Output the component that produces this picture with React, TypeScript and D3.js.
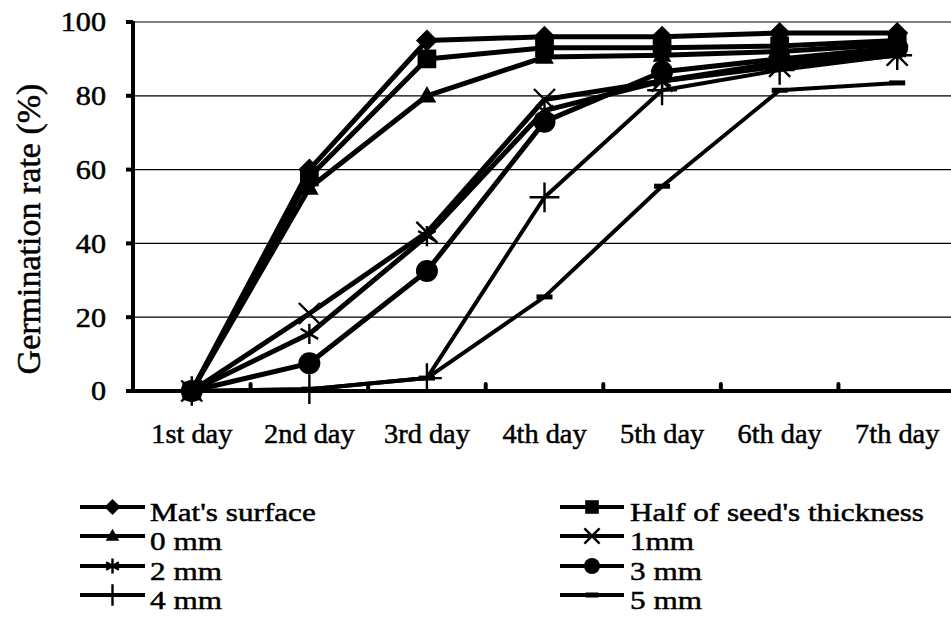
import React from 'react'
import * as d3 from 'd3'

const days = ['1st day', '2nd day', '3rd day', '4th day', '5th day', '6th day', '7th day']
const seriesNames = ["Mat's surface", "Half of seed's thickness", '0 mm', '1mm', '2 mm', '3 mm', '4 mm', '5 mm']
const matSurface = [0, 60, 95, 96, 96, 97, 97]
const halfSeed = [0, 58, 90, 93, 93, 93.5, 95]
const mm0 = [0, 55, 80, 90.5, 91, 92, 94]
const mm1 = [0, 21, 43, 79, 84, 88, 91]
const mm2 = [0, 15.5, 42, 76, 84, 89, 92]
const mm3 = [0, 7.5, 32.5, 73, 86.5, 90, 93]
const mm4 = [0, 0.5, 3.5, 52.5, 81.5, 87, 91]
const mm5 = [0, 0.5, 3.5, 25.5, 55.5, 81.5, 83.5]
const yTicks = [0, 20, 40, 60, 80, 100]
const markers = ['diamond', 'square', 'triangle', 'times', 'asterisk', 'circle', 'plus', 'dash']

const allValues = [matSurface, halfSeed, mm0, mm1, mm2, mm3, mm4, mm5]
const font = '"Liberation Serif"'

function Marker({ kind, x, y, s }: { kind: string; x: number; y: number; s: number }) {
  // s = half size
  if (kind === 'diamond') {
    return <path d={`M${x},${y - s}L${x + s},${y}L${x},${y + s}L${x - s},${y}Z`} fill="#000" />
  }
  if (kind === 'square') {
    return <rect x={x - s * 0.85} y={y - s * 0.85} width={s * 1.7} height={s * 1.7} fill="#000" />
  }
  if (kind === 'triangle') {
    return <path d={`M${x},${y - s * 0.9}L${x + s * 0.85},${y + s * 0.6}L${x - s * 0.85},${y + s * 0.6}Z`} fill="#000" />
  }
  if (kind === 'circle') {
    return <circle cx={x} cy={y} r={s} fill="#000" />
  }
  if (kind === 'dash') {
    return <rect x={x - s * 0.8} y={y - 2.5} width={s * 1.6} height={5} fill="#000" />
  }
  let sym = d3.symbolPlus
  if (kind === 'times') sym = d3.symbolTimes
  if (kind === 'asterisk') sym = d3.symbolAsterisk
  const p = d3.symbol().type(sym).size(s * s * 2.4)()
  return <path d={p || ''} transform={`translate(${x},${y})`} fill="none" stroke="#000" strokeWidth={2.4} />
}

export default function App() {
  const width = 951
  const height = 618
  const left = 133
  const right = 956
  const top = 22
  const bottom = 391

  const x = d3.scaleBand().domain(days).range([left, right])
  const y = d3.scaleLinear().domain([0, 100]).range([bottom, top])
  const cx = (d: string) => (x(d) || 0) + x.bandwidth() / 2

  const line = d3.line<number>()
    .x((d, i) => cx(days[i]))
    .y(d => y(d))

  const legendBase = [521, 550, 580, 609]
  const legendCols = [{ x1: 80, x2: 145, tx: 150 }, { x1: 560, x2: 624, tx: 630 }]
  const txt = { fontFamily: font }

  return (
    <svg width={width} height={height} style={{ position: 'absolute', left: 0, top: 0, background: '#fff' }}>
      {/* grid */}
      {yTicks.filter(t => t > 0).map(t => (
        <line key={'g' + t} x1={left} x2={width} y1={y(t)} y2={y(t)} stroke="#000" strokeWidth={1.2} />
      ))}
      {/* series */}
      {allValues.map((vals, si) => (
        <g key={'s' + si}>
          <path d={line(vals) || ''} fill="none" stroke="#000" strokeWidth={si >= 6 ? 4 : 5} strokeLinejoin="round" />
          {vals.map((v, i) => (
            <Marker key={i} kind={markers[si]} x={cx(days[i])} y={y(v)} s={si === 7 ? 10 : 11} />
          ))}
        </g>
      ))}
      {/* y axis */}
      <line x1={left} x2={left} y1={top - 1} y2={bottom + 2} stroke="#000" strokeWidth={4} />
      {yTicks.map(t => (
        <g key={'yt' + t}>
          <line x1={left - 7} x2={left} y1={y(t)} y2={y(t)} stroke="#000" strokeWidth={4} />
          <text transform={`translate(106,${y(t)}) scale(1.12,1)`} dy="0.35em" textAnchor="end" fontSize={27} style={txt}
            stroke="#000" strokeWidth={0.5}>{t}</text>
        </g>
      ))}
      {/* x axis */}
      <line x1={left - 2} x2={width} y1={bottom} y2={bottom} stroke="#000" strokeWidth={4} />
      {days.slice(1).map(d => (
        <line key={'xt' + d} x1={x(d)} x2={x(d)} y1={bottom} y2={bottom - 7} stroke="#000" strokeWidth={4} strokeLinecap="round" />
      ))}
      {days.map(d => (
        <text key={'xl' + d} transform={`translate(${cx(d)},443) scale(1.05,1)`} textAnchor="middle" fontSize={27} style={txt}
          stroke="#000" strokeWidth={0.5}>{d}</text>
      ))}
      <text transform={`translate(40,229) rotate(-90)`} textAnchor="middle" fontSize={34}
        style={txt} stroke="#000" strokeWidth={0.5}>Germination rate (%)</text>
      {/* legend */}
      {seriesNames.map((name, i) => {
        const c = legendCols[i % 2]
        const base = legendBase[Math.floor(i / 2)]
        const ry = base - 14
        const mx = (c.x1 + c.x2) / 2
        return (
          <g key={'l' + i}>
            <line x1={c.x1} x2={c.x2} y1={ry} y2={ry} stroke="#000" strokeWidth={4} />
            <Marker kind={markers[i]} x={mx} y={ry} s={8} />
            <text transform={`translate(${c.tx},${base}) scale(1.2,1)`} fontSize={26}
              style={txt} stroke="#000" strokeWidth={0.5}>{name}</text>
          </g>
        )
      })}
    </svg>
  )
}
